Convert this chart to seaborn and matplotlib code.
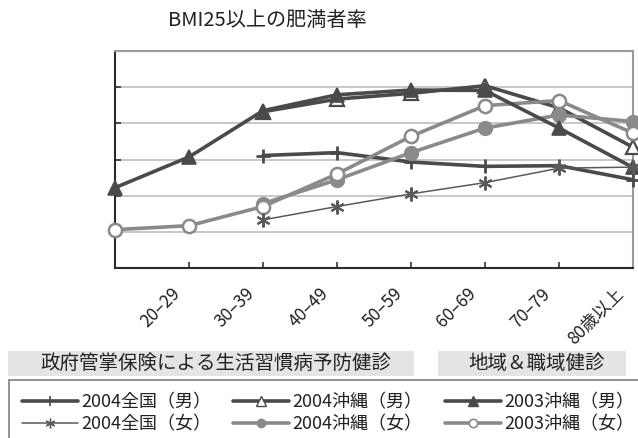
import matplotlib
matplotlib.use("Agg")
import matplotlib.pyplot as plt
import seaborn as sns
import pandas as pd
from matplotlib.lines import Line2D
from matplotlib.patches import Rectangle

# ---------------- data ----------------
title = "BMI25以上の肥満者率"
age_labels = ["20–29", "30–39", "40–49", "50–59", "60–69", "70–79", "80歳以上"]
x_2003 = [0, 1, 2, 3, 4, 5, 6, 7]
x_2004 = [2, 3, 4, 5, 6, 7]

zenkoku_m_2004 = [31.1, 31.9, 29.3, 28.1, 28.3, 24.4]
zenkoku_f_2004 = [13.3, 17.0, 20.5, 23.6, 27.6, 27.9]
okinawa_m_2004 = [43.2, 46.7, 48.3, 50.4, 44.3, 33.4]
okinawa_f_2004 = [17.8, 24.4, 31.9, 38.7, 42.3, 40.5]
okinawa_m_2003 = [22.2, 30.7, 43.5, 47.9, 49.2, 49.1, 38.7, 27.8]
okinawa_f_2003 = [10.6, 11.7, 17.0, 26.0, 36.4, 44.9, 46.3, 37.3]

series_names = ["2004全国（男）", "2004全国（女）", "2004沖縄（男）",
                "2004沖縄（女）", "2003沖縄（男）", "2003沖縄（女）"]
header_left = "政府管掌保険による生活習慣病予防健診"
header_right = "地域＆職域健診"

# ---------------- style ----------------
sns.set_theme(style="white")
FONT = ["Noto Sans CJK JP", "DejaVu Sans"]
plt.rcParams["font.family"] = FONT
DARK = "#4a4a4a"
GRAY = "#8a8a8a"
TXT = "#222222"

W, H = 638, 438
fig = plt.figure(figsize=(W / 100, H / 100), dpi=100)
ax = fig.add_axes([115 / W, 1 - 268 / H, (633 - 115) / W, (268 - 51) / H])

styles = [
    # name, x, y, color, lw, marker, ms, mfc, mec, mew, zorder
    (series_names[0], x_2004, zenkoku_m_2004, DARK, 2.6, "+", 10, DARK, DARK, 2.0, 3),
    (series_names[2], x_2004, okinawa_m_2004, DARK, 2.6, "^", 9.5, "white", DARK, 1.6, 4),
    (series_names[3], x_2004, okinawa_f_2004, GRAY, 2.6, "o", 9.5, GRAY, GRAY, 1.5, 5),
    (series_names[5], x_2003, okinawa_f_2003, GRAY, 2.6, "o", 9.5, "white", GRAY, 1.8, 6),
    (series_names[4], x_2003, okinawa_m_2003, DARK, 2.6, "^", 9.5, DARK, DARK, 1.2, 7),
    (series_names[1], x_2004, zenkoku_f_2004, "#5a5a5a", 1.1, (6, 2, 0), 10, "#5a5a5a", "#5a5a5a", 1.5, 8),
]

for name, xs, ys, c, lw, mk, ms, mfc, mec, mew, z in styles:
    df = pd.DataFrame({"x": xs, "y": ys})
    sns.lineplot(data=df, x="x", y="y", ax=ax, color=c, linewidth=lw,
                 marker=mk, markersize=ms, markerfacecolor=mfc,
                 markeredgecolor=mec, markeredgewidth=mew,
                 clip_on=False, legend=False, zorder=z)

ax.set_xlim(0, 7)
ax.set_ylim(0, 60)
ax.set_xlabel("")
ax.set_ylabel("")

# y axis: grid, inward ticks, no labels
ax.set_yticks([0, 10, 20, 30, 40, 50, 60])
ax.set_yticklabels([])
ax.tick_params(axis="y", direction="in", length=4, width=1.2, color="#333333", left=True)
for yv in [10, 20, 30, 40, 50]:
    ax.axhline(yv, color="#c8c8c8", lw=1.4, zorder=0)

# x axis: minor ticks at points, labels shifted between
ax.set_xticks([i + 0.76 for i in range(len(age_labels))])
ax.set_xticklabels(age_labels, rotation=45, ha="right", va="top",
                   rotation_mode="anchor", fontsize=12.5, color=TXT)
ax.set_xticks(x_2003, minor=True)
ax.tick_params(axis="x", which="major", length=0, pad=12)
ax.tick_params(axis="x", which="minor", direction="in", length=4, width=1.2,
               color="#333333", bottom=True)

for s in ["left", "bottom"]:
    ax.spines[s].set_color("#2a2a2a")
    ax.spines[s].set_linewidth(1.5)
for s in ["top", "right"]:
    ax.spines[s].set_color("#9a9a9a")
    ax.spines[s].set_linewidth(1.5)

# title
fig.text(267 / W, 1 - 20 / H, title, ha="center", va="center",
         fontsize=14.5, color=TXT, family=FONT)

# header boxes
fig.patches.append(Rectangle((8 / W, 1 - 376 / H), (414 - 8) / W, 25 / H,
                             transform=fig.transFigure, facecolor="#e4e4e4",
                             edgecolor="none", zorder=0))
fig.patches.append(Rectangle((438 / W, 1 - 376 / H), (626 - 438) / W, 25 / H,
                             transform=fig.transFigure, facecolor="#e4e4e4",
                             edgecolor="none", zorder=0))
fig.text(216 / W, 1 - 363.5 / H, header_left, ha="center", va="center",
         fontsize=14, color=TXT, family=FONT)
fig.text(537 / W, 1 - 363.5 / H, header_right, ha="center", va="center",
         fontsize=14, color=TXT, family=FONT)

# legend frame
fig.patches.append(Rectangle((9 / W, -0.05), 1.2, 1 - 380 / H + 0.05,
                             transform=fig.transFigure, facecolor="none",
                             edgecolor="#8a8a8a", lw=1.3, zorder=0))

# legend handles
def handle(c, lw, mk, ms, mfc, mec, mew):
    return Line2D([0], [0], color=c, lw=lw, marker=mk, markersize=ms,
                  markerfacecolor=mfc, markeredgecolor=mec, markeredgewidth=mew)

h = {
    series_names[0]: handle(DARK, 2.6, "+", 7, DARK, DARK, 1.2),
    series_names[1]: handle("#5a5a5a", 1.1, (6, 2, 0), 7, "#5a5a5a", "#5a5a5a", 1.0),
    series_names[2]: handle(DARK, 2.6, "^", 7, "white", DARK, 1.0),
    series_names[3]: handle(GRAY, 2.6, "o", 6, GRAY, GRAY, 1.0),
    series_names[4]: handle(DARK, 2.6, "^", 7, DARK, DARK, 1.0),
    series_names[5]: handle(GRAY, 2.6, "o", 6, "white", GRAY, 1.2),
}
columns = [(22, [series_names[0], series_names[1]]),
           (233, [series_names[2], series_names[3]]),
           (445, [series_names[4], series_names[5]])]
for xpix, names in columns:
    leg = fig.legend(handles=[h[n] for n in names], labels=names,
                     loc="center left", bbox_to_anchor=(xpix / W, 1 - 413.5 / H),
                     frameon=False, prop={"family": FONT, "size": 13},
                     handlelength=3.1, handletextpad=0.2, labelspacing=0.22,
                     borderpad=0, borderaxespad=0)
    for t in leg.get_texts():
        t.set_color(TXT)

fig.savefig("out.png", dpi=100)
